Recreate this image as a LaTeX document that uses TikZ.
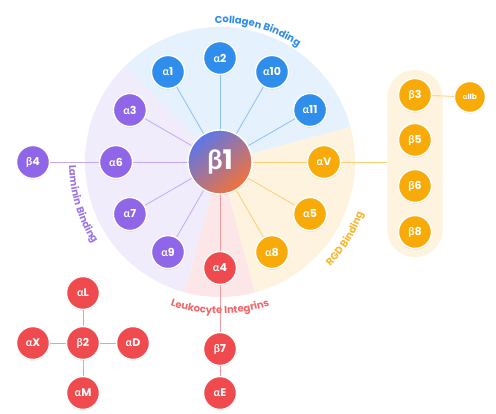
\documentclass[tikz,border=0pt]{standalone}
\usepackage{fontspec}
\setmainfont{Poppins}
% Poppins has no Greek, so the letters come from Lato.
\newfontfamily\greekfont{Lato}
\newcommand{\galpha}{{\greekfont α}}
\newcommand{\gbeta}{{\greekfont β}}
\usetikzlibrary{
  decorations.text,
  shadows
}
\pgfdeclarelayer{sectors}
\pgfdeclarelayer{spokes}
\pgfsetlayers{sectors,spokes,main}
\definecolor{collagenblue}{HTML}{2F8DEB}
\definecolor{lamininviolet}{HTML}{8F66E8}
\definecolor{leukored}{HTML}{EF4B4E}
\definecolor{rgdamber}{HTML}{F8AA08}
\definecolor{collagenpale}{HTML}{E5F1FC}
\definecolor{lamininpale}{HTML}{F0ECFB}
\definecolor{leukopale}{HTML}{FCE6E8}
\definecolor{rgdpale}{HTML}{FDF3DE}
\definecolor{HubTop}{HTML}{5C76EA}
\definecolor{HubMid}{HTML}{9A63C2}
\definecolor{HubBottom}{HTML}{F2733A}
\tikzset{
  % For every subunit disc.
  subunit/.style={
    circle,
    draw=white,
    line width=1.4pt,
    minimum size=33pt,
    inner sep=0pt,
    text=white,
    font=\bfseries\fontsize{11}{13}\selectfont,
    drop shadow={opacity=0.18, shadow xshift=0pt, shadow yshift=-1.2pt}},
%
  collagen/.style={subunit, fill=collagenblue},
  laminin/.style={subunit, fill=lamininviolet},
  leuko/.style={subunit, fill=leukored},
  rgd/.style={subunit, fill=rgdamber},
%
  % For the central beta1 disc.
  hub/.style={
    subunit,
    minimum size=64pt,
    shading=axis,
    top color=HubTop,
    middle color=HubMid,
    bottom color=HubBottom,
    shading angle=40,
    font=\bfseries\fontsize{27}{30}\selectfont},
%
  % For spokes and links.
  link/.style={
    line width=0.8pt,
    draw=#1!55},
%
  % For the sector names written round the disc.
  sector label/.style={
    decorate,
    decoration={text along path, text align=center, text color=#1}},
}

\begin{document}
\begin{tikzpicture}[x=1pt, y=1pt]
  \useasboundingbox (-220,-252) rectangle (276,162);

  % Sectors.
  \begin{pgfonlayer}{sectors}
    \fill[collagenpale] (0,0) -- (15:135) arc[start angle=15, end angle=135, radius=135] -- cycle;
    \fill[lamininpale] (0,0) -- (135:135) arc[start angle=135, end angle=255, radius=135] -- cycle;
    \fill[leukopale] (0,0) -- (255:135) arc[start angle=255, end angle=285, radius=135] -- cycle;
    \fill[rgdpale] (0,0) -- (285:135) arc[start angle=285, end angle=375, radius=135] -- cycle;

    % The RGD beta partners sit in one pill.
    \node[fill=rgdpale, rounded corners=27pt, minimum width=55pt,
          minimum height=187pt, inner sep=0pt] (rgdbox) at (195,-1.5) {};
  \end{pgfonlayer}

  \path[sector label=collagenblue,
        decoration={text={|\bfseries\fontsize{10}{12}\selectfont|Collagen Binding}}]
    (95:139) arc[start angle=95, end angle=53, radius=139];
  \path[sector label=lamininviolet!90,
        decoration={text={|\bfseries\fontsize{10}{12}\selectfont|Laminin Binding}}]
    (176:151) arc[start angle=176, end angle=218, radius=151];
  \path[sector label=leukored!85,
        decoration={text={|\bfseries\fontsize{10}{12}\selectfont|Leukocyte Integrins}}]
    (246:152) arc[start angle=246, end angle=294, radius=152];
  \path[sector label=rgdamber!85,
        decoration={text={|\bfseries\fontsize{10}{12}\selectfont|RGD Binding}}]
    (-50:152) arc[start angle=-50, end angle=-13, radius=152];

  \node[hub] (b1) at (0,0) {\gbeta1};

  \node[collagen] (a1) at (120:104) {\galpha1};
  \node[collagen] (a2) at (90:104) {\galpha2};
  \node[collagen] (a10) at (60:104) {\galpha10};
  \node[collagen] (a11) at (30:104) {\galpha11};

  \node[laminin] (a3) at (150:104) {\galpha3};
  \node[laminin] (a6) at (180:104) {\galpha6};
  \node[laminin] (a7) at (210:104) {\galpha7};
  \node[laminin] (a9) at (240:104) {\galpha9};
  \node[laminin] (b4) at (-187,0) {\gbeta4};

  \node[leuko] (a4) at (270:106) {\galpha4};
  \node[leuko] (b7) at (0,-187) {\gbeta7};
  \node[leuko] (aE) at (0,-231) {\galpha E};

  \node[rgd] (aV) at (0:104) {\galpha V};
  \node[rgd] (a5) at (330:104) {\galpha5};
  \node[rgd] (a8) at (300:104) {\galpha8};

  \node[rgd] (b3) at (195,67) {\gbeta3};
  \node[rgd] (b5) at (195,22) {\gbeta5};
  \node[rgd] (b6) at (195,-24) {\gbeta6};
  \node[rgd] (b8) at (195,-70) {\gbeta8};
  \node[rgd, minimum size=31pt, font=\bfseries\fontsize{7.5}{9}\selectfont]
    (aIIb) at (250,65) {\galpha IIb};

  \node[leuko] (b2) at (-137,-181) {\gbeta2};
  \node[leuko] (aL) at (-137,-131) {\galpha L};
  \node[leuko] (aX) at (-187,-181) {\galpha X};
  \node[leuko] (aD) at (-87,-181) {\galpha D};
  \node[leuko] (aM) at (-137,-231) {\galpha M};

  % Spokes go under the discs.
  \begin{pgfonlayer}{spokes}
    \draw[link=collagenblue] (b1) -- (a1);
    \draw[link=collagenblue] (b1) -- (a2);
    \draw[link=collagenblue] (b1) -- (a10);
    \draw[link=collagenblue] (b1) -- (a11);

    \draw[link=lamininviolet] (b1) -- (a3);
    \draw[link=lamininviolet] (b1) -- (a6);
    \draw[link=lamininviolet] (b1) -- (a7);
    \draw[link=lamininviolet] (b1) -- (a9);
    \draw[link=lamininviolet] (a6) -- (b4);

    \draw[link=leukored] (b1) -- (a4);
    \draw[link=leukored] (a4) -- (b7);
    \draw[link=leukored] (b7) -- (aE);

    \draw[link=rgdamber] (b1) -- (aV);
    \draw[link=rgdamber] (aV) -- (rgdbox.west |- aV);
    \draw[link=rgdamber] (b1) -- (a5);
    \draw[link=rgdamber] (b1) -- (a8);
    \draw[link=rgdamber] (b3) -- (aIIb);

    \draw[link=leukored] (b2) -- (aL);
    \draw[link=leukored] (b2) -- (aX);
    \draw[link=leukored] (b2) -- (aD);
    \draw[link=leukored] (b2) -- (aM);
  \end{pgfonlayer}
\end{tikzpicture}
\end{document}
